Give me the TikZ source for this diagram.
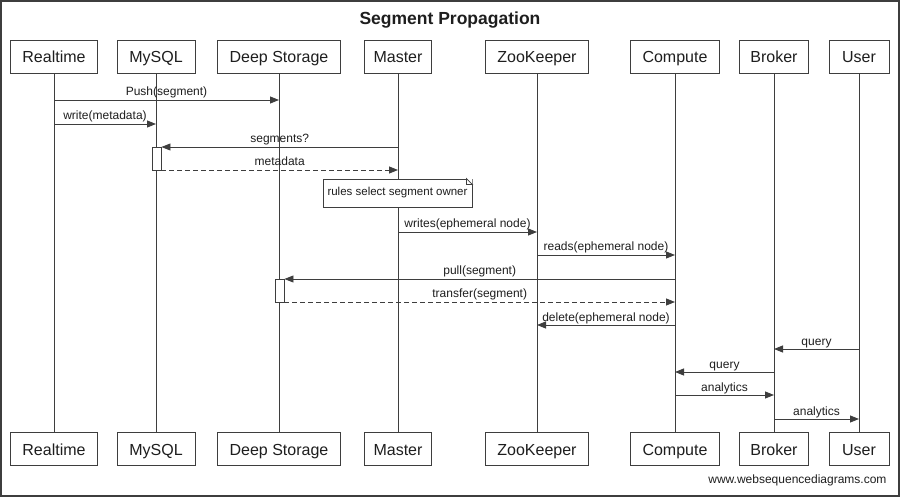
\documentclass[tikz,border=0pt]{standalone}
\usepackage{fontspec}
\setmainfont{Liberation Sans}
\usepackage{tikz}
\usetikzlibrary{positioning,arrows.meta}
\definecolor{lin}{RGB}{62,62,62}
\definecolor{txt}{RGB}{30,30,30}

\begin{document}
\begin{tikzpicture}[x=1pt, y=-1pt, text=txt,
        actor/.style={draw=lin, line width=0.9pt, fill=white, minimum height=33pt, inner xsep=0pt,
            text height=12pt, text depth=0.5pt, font=\fontsize{16}{19}\selectfont},
        life/.style={draw=lin, line width=0.9pt},
        act/.style={draw=lin, line width=0.9pt, fill=white, minimum width=9pt, inner sep=0pt},
        msg/.style={draw=lin, line width=0.9pt, -{Triangle[length=9pt, width=7pt]}},
        reply/.style={msg, dash pattern=on 5pt off 3pt},
        lbl/.style={anchor=base, yshift=4pt, inner sep=0pt, font=\fontsize{12}{14}\selectfont}]
        \fill[white] (0,0) rectangle (900,497);
        \draw[draw=lin, line width=2pt] (1,1) rectangle (899,496);

        % Node definitions
        \node (title) [anchor=base, font=\bfseries\fontsize{17.5}{20}\selectfont] at (450,25) {Segment Propagation};

        \node (RT) [actor, minimum width=87pt] at (54,56.5) {Realtime};
        \node (MY) [actor, minimum width=78pt] at (156,56.5) {MySQL};
        \node (DS) [actor, minimum width=123pt] at (279,56.5) {Deep Storage};
        \node (MA) [actor, minimum width=67pt] at (398,56.5) {Master};
        \node (ZK) [actor, minimum width=103pt] at (537,56.5) {ZooKeeper};
        \node (CO) [actor, minimum width=89pt] at (675,56.5) {Compute};
        \node (BR) [actor, minimum width=69pt] at (774,56.5) {Broker};
        \node (US) [actor, minimum width=60pt] at (859,56.5) {User};

        \node (RTb) [actor, minimum width=87pt, below=359pt of RT] {Realtime};
        \node (MYb) [actor, minimum width=78pt, below=359pt of MY] {MySQL};
        \node (DSb) [actor, minimum width=123pt, below=359pt of DS] {Deep Storage};
        \node (MAb) [actor, minimum width=67pt, below=359pt of MA] {Master};
        \node (ZKb) [actor, minimum width=103pt, below=359pt of ZK] {ZooKeeper};
        \node (COb) [actor, minimum width=89pt, below=359pt of CO] {Compute};
        \node (BRb) [actor, minimum width=69pt, below=359pt of BR] {Broker};
        \node (USb) [actor, minimum width=60pt, below=359pt of US] {User};

        % Lifelines
        \draw[life] (RT) -- (RTb);
        \draw[life] (MY) -- (MYb);
        \draw[life] (DS) -- (DSb);
        \draw[life] (MA) -- (MAb);
        \draw[life] (ZK) -- (ZKb);
        \draw[life] (CO) -- (COb);
        \draw[life] (BR) -- (BRb);
        \draw[life] (US) -- (USb);

        % Activations and note
        \node (actMY) [act, minimum height=23pt] at (156.5,158.5) {};
        \node (actDS) [act, minimum height=23pt] at (279.5,290.5) {};

        \node (note) [draw=lin, line width=0.9pt, fill=white, minimum width=149pt, minimum height=28pt,
            inner sep=0pt, font=\fontsize{11.5}{14}\selectfont] at (397.5,193) {rules select segment owner};
        \fill[white] ([xshift=-6pt]note.north east) -- (note.north east) -- ([yshift=-6pt]note.north east) -- cycle;
        \draw[lin, line width=0.7pt] ([xshift=-6pt]note.north east) -- ([yshift=-6pt]note.north east)
            -- ([xshift=-6pt, yshift=-6pt]note.north east) -- cycle;

        % Connecting lines
        \draw[msg] (RT |- 0,100) -- node[lbl] {Push(segment)} (DS |- 0,100);
        \draw[msg] (RT |- 0,124) -- node[lbl] {write(metadata)} (MY |- 0,124);
        \draw[msg] (MA |- 0,147) -- node[lbl] {segments?} (actMY.east |- 0,147);
        \draw[reply] (actMY.east |- 0,170) -- node[lbl] {metadata} (MA |- 0,170);
        \draw[msg] (MA |- 0,232) -- node[lbl] {writes(ephemeral node)} (ZK |- 0,232);
        \draw[msg] (ZK |- 0,255) -- node[lbl] {reads(ephemeral node)} (CO |- 0,255);
        \draw[msg] (CO |- 0,279) -- node[lbl] {pull(segment)} (actDS.east |- 0,279);
        \draw[reply] (actDS.east |- 0,302) -- node[lbl] {transfer(segment)} (CO |- 0,302);
        \draw[msg] (CO |- 0,325) -- node[lbl] {delete(ephemeral node)} (ZK |- 0,325);
        \draw[msg] (US |- 0,349) -- node[lbl] {query} (BR |- 0,349);
        \draw[msg] (BR |- 0,372) -- node[lbl] {query} (CO |- 0,372);
        \draw[msg] (CO |- 0,395) -- node[lbl] {analytics} (BR |- 0,395);
        \draw[msg] (BR |- 0,419) -- node[lbl] {analytics} (US |- 0,419);

        \node (wsd) [anchor=base east, font=\fontsize{12}{14}\selectfont] at (890,483) {www.websequencediagrams.com};
    \end{tikzpicture}
\end{document}
